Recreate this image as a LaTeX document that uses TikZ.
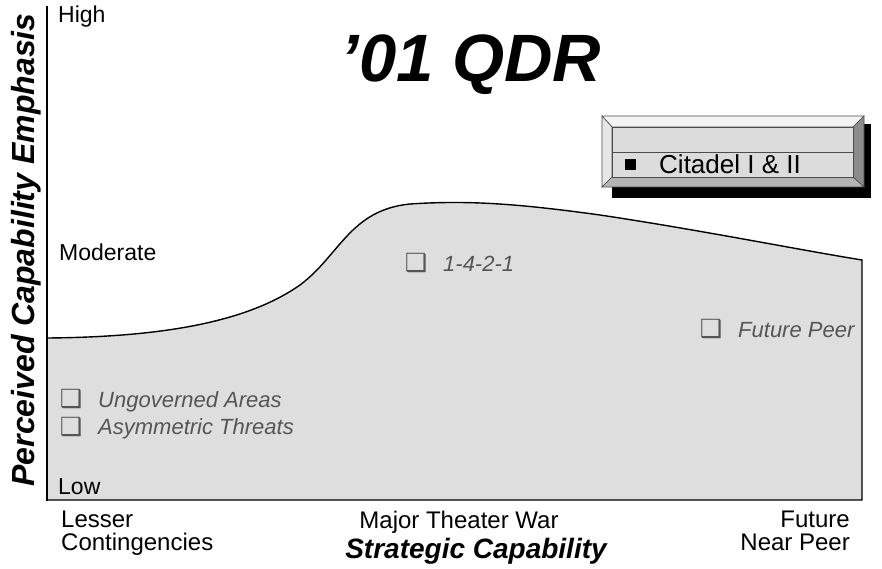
\documentclass[tikz,border=0pt]{standalone}
\usepackage{fontspec}
\setmainfont{Liberation Sans}
\newfontfamily\symfont{DejaVu Sans}
\definecolor{areagray}{HTML}{DEDEDE}
\definecolor{itemgray}{HTML}{555555}
\definecolor{bevtop}{HTML}{F4F4F4}
\definecolor{bevleft}{HTML}{E6E6E6}
\definecolor{bevright}{HTML}{8C8C8C}
\definecolor{bevbot}{HTML}{B4B4B4}
\definecolor{bevface}{HTML}{DCDCDC}
\tikzset{
  lab/.style={font=\fontsize{24}{23}\selectfont, inner sep=0pt},
  lvl/.style={font=\fontsize{23}{23}\selectfont, inner sep=0pt},
  itemtxt/.style={font=\fontsize{22}{24}\selectfont\itshape, text=itemgray, inner sep=0pt},
  chk/.style={font=\fontsize{25}{26}\symfont, text=itemgray, inner sep=0pt},
  bigtitle/.style={font=\fontsize{67}{70}\selectfont\bfseries\itshape, inner sep=0pt},
  axtitle/.style={font=\fontsize{28}{30}\selectfont\bfseries\itshape, inner sep=0pt},
  bevline/.style={draw=black!70, line width=0.6pt}
}
\begin{document}
\begin{tikzpicture}[x=1pt,y=-1pt]
\useasboundingbox (0,0) rectangle (882,569);
% shaded area
\fill[areagray] (47,338) .. controls (170,337) and (250,320) .. (300,285)
  .. controls (340,255) and (350,210) .. (410,204)
  .. controls (470,200) and (520,204) .. (600,215)
  .. controls (700,230) and (800,250) .. (862,260)
  -- (862,500) -- (47,500) -- cycle;
\draw[line width=1.4pt] (47,338) .. controls (170,337) and (250,320) .. (300,285)
  .. controls (340,255) and (350,210) .. (410,204)
  .. controls (470,200) and (520,204) .. (600,215)
  .. controls (700,230) and (800,250) .. (862,260)
  -- (862,500) -- (47,500);
% y axis
\coordinate (ytop) at (47,6);
\coordinate (ybot) at (47,501);
\draw[line width=1.8pt] (ytop) -- (ybot);
% title
\node[bigtitle, anchor=base] (title) at (471,82) {’01 QDR};
% bevel box
\fill[black] (612,124) rectangle (871,198);
\fill[bevtop, bevline] (602,116) -- (864,116) -- (853,127) -- (612,127) -- cycle;
\fill[bevleft, bevline] (602,116) -- (612,127) -- (612,177) -- (602,187) -- cycle;
\fill[bevright, bevline] (864,116) -- (864,187) -- (853,177) -- (853,127) -- cycle;
\fill[bevbot, bevline] (602,187) -- (864,187) -- (853,177) -- (612,177) -- cycle;
\fill[bevface, bevline] (612,127) rectangle (853,177);
\draw[bevline] (612,152) -- (853,152);
\fill[black] (625,159) rectangle (636,170);
\node[lab, font=\fontsize{26}{26}\selectfont, anchor=base west] (citadel) at (659,174) {Citadel I \& II};
% y-axis levels
\node[lvl, anchor=base west] (high) at (58,23) {High};
\node[lvl, anchor=base west] (moderate) at (59,260) {Moderate};
\node[lvl, anchor=base west] (low) at (58,494) {Low};
% items
\node[chk, anchor=center] (c1) at (71,399) {❑};
\node[itemtxt, anchor=base west] (t1) at (98,407) {Ungoverned Areas};
\node[chk, anchor=center] (c2) at (71,427) {❑};
\node[itemtxt, anchor=base west] (t2) at (98,434) {Asymmetric Threats};
\node[chk, anchor=center] (c3) at (416,263) {❑};
\node[itemtxt, anchor=base west] (t3) at (443,271) {1-4-2-1};
\node[chk, anchor=center] (c4) at (711,329) {❑};
\node[itemtxt, anchor=base west] (t4) at (738,337) {Future Peer};
% x-axis labels
\node[lab, align=left, anchor=base west] (lesser) at (61,550) {Lesser\\Contingencies};
\node[lab, anchor=base] (mtw) at (459,528) {Major Theater War};
\node[lab, align=right, anchor=base east] (future) at (850,550) {Future\\Near Peer};
\node[axtitle, anchor=base] (xtitle) at (476,558) {Strategic Capability};
\node[axtitle, font=\fontsize{32}{34}\selectfont\bfseries\itshape, rotate=90, anchor=base] (ytitle) at (34,250) {Perceived Capability Emphasis};
\end{tikzpicture}
\end{document}
